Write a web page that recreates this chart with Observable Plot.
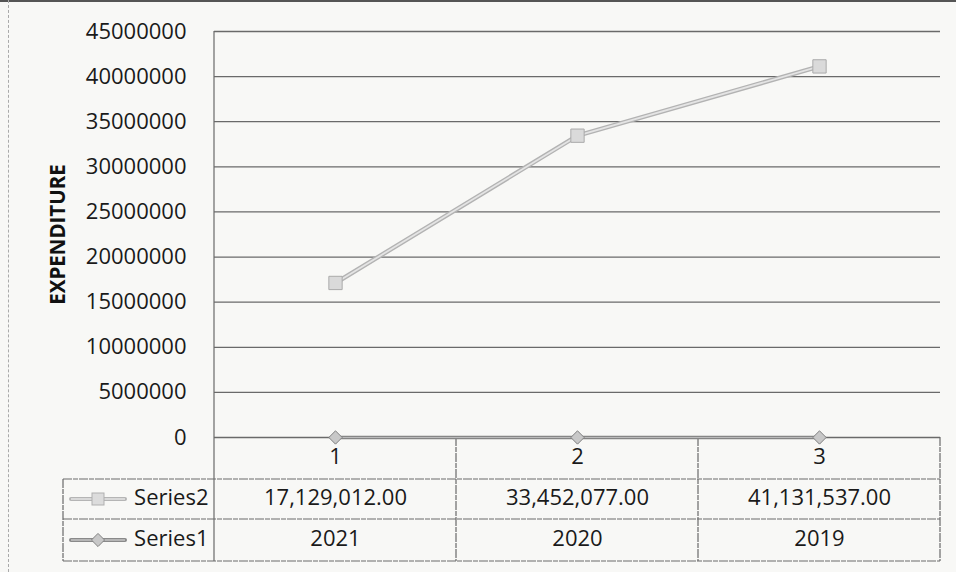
<!DOCTYPE html>
<html>
<head>
<meta charset="utf-8">
<script src="https://cdn.jsdelivr.net/npm/d3@7"></script>
<script src="https://cdn.jsdelivr.net/npm/@observablehq/plot@0.6"></script>
<style>
  html, body { margin: 0; padding: 0; background: #f8f8f6; }
  #chart { position: relative; }
  #chart svg { display: block; }
  #topedge { position: absolute; left: 0; top: 0; width: 956px; height: 2px; background: #555; }
  #leftedge { position: absolute; left: 8px; top: 0; width: 0; height: 572px; border-left: 1px dashed #aaa; }
</style>
</head>
<body>
<div id="chart"><div id="topedge"></div><div id="leftedge"></div></div>
<script>
const categories = [1, 2, 3];
const series2 = [17129012.00, 33452077.00, 41131537.00];
const series1 = [2021, 2020, 2019];
const yTicks = [0, 5000000, 10000000, 15000000, 20000000, 25000000, 30000000, 35000000, 40000000, 45000000];
const seriesNames = ["Series2", "Series1"];

const data2 = categories.map((c, i) => ({cat: c, value: series2[i], label: d3.format(",.2f")(series2[i])}));
const data1 = categories.map((c, i) => ({cat: c, value: series1[i], label: String(series1[i])}));

const FONT = "'Open Sans', 'Noto Sans', sans-serif";
const gridColor = "#6a6a6a";

// table grid + legend keys drawn with the plot's own scales
function tableGrid(index, scales, values, dims) {
  const {x, y} = scales;
  const g = d3.create("svg:g");
  const y0 = y(0);
  const rowH = [42, 82, 124];
  const left = x(0.5) - 151;
  const right = x(3.5);
  const line = (x1, y1, x2, y2, dash) => g.append("line")
    .attr("x1", x1).attr("y1", y1).attr("x2", x2).attr("y2", y2)
    .attr("stroke", gridColor).attr("stroke-width", 1.2).attr("stroke-dasharray", dash ? "9 1 5 1" : null);
  // horizontal table lines
  rowH.forEach(h => line(left, y0 + h, right, y0 + h, true));
  // vertical separators
  line(left, y0 + rowH[0], left, y0 + rowH[2], true);
  [0.5, 1.5, 2.5, 3.5].forEach(b => line(x(b), b === 0.5 ? y(45000000) : y0, x(b), y0 + rowH[2], b !== 0.5));
  // legend keys
  const keys = [
    {row: 0, stroke: "#b5b5b5", inner: "#e6e6e6", sym: "square"},
    {row: 1, stroke: "#8a8a8a", inner: "#c4c4c4", sym: "diamond"}
  ];
  keys.forEach(k => {
    const cy = y0 + (rowH[k.row] + rowH[k.row + 1]) / 2;
    const kx1 = left + 8, kx2 = left + 62, kc = left + 35;
    g.append("line").attr("x1", kx1).attr("x2", kx2).attr("y1", cy).attr("y2", cy)
      .attr("stroke", k.stroke).attr("stroke-width", 4).attr("stroke-linecap", "round");
    g.append("line").attr("x1", kx1).attr("x2", kx2).attr("y1", cy).attr("y2", cy)
      .attr("stroke", k.inner).attr("stroke-width", 1.5);
    if (k.sym === "square") {
      g.append("rect").attr("x", kc - 6).attr("y", cy - 6).attr("width", 12).attr("height", 12)
        .attr("fill", "#dcdcdc").attr("stroke", "#b0b0b0");
    } else {
      g.append("path").attr("d", d3.symbol(d3.symbolDiamond2, 110)()).attr("transform", `translate(${kc},${cy})`)
        .attr("fill", "#c8c8c8").attr("stroke", "#808080");
    }
  });
  return g.node();
}

const FS = 22;
const chart = Plot.plot({
  width: 956,
  height: 572,
  marginTop: 31,
  marginBottom: 135,
  marginLeft: 214,
  marginRight: 16,
  style: {fontFamily: FONT, background: "transparent", color: "#1a1a1a", overflow: "visible"},
  x: {domain: [0.5, 3.5], axis: null},
  y: {domain: [0, 45000000], label: null},
  marks: [
    Plot.gridY(yTicks, {stroke: gridColor, strokeOpacity: 1, strokeWidth: 1.3}),
    Plot.axisY(yTicks, {tickSize: 0, tickPadding: 28, tickFormat: d => String(d), fontSize: FS, label: null}),
    Plot.text(["EXPENDITURE"], {frameAnchor: "left", textAnchor: "middle", dx: -156, rotate: -90, fontSize: 20.5, fontWeight: "bold", fill: "#111"}),
    tableGrid,
    // Series1 line (near zero)
    Plot.line(data1, {x: "cat", y: "value", stroke: "#858585", strokeWidth: 3.5}),
    Plot.line(data1, {x: "cat", y: "value", stroke: "#bdbdbd", strokeWidth: 1}),
    Plot.dot(data1, {x: "cat", y: "value", symbol: "diamond2", r: 6, fill: "#c8c8c8", stroke: "#808080", strokeWidth: 1}),
    // Series2 line
    Plot.line(data2, {x: "cat", y: "value", stroke: "#b3b3b3", strokeWidth: 4.5}),
    Plot.line(data2, {x: "cat", y: "value", stroke: "#e4e4e4", strokeWidth: 1.8}),
    Plot.dot(data2, {x: "cat", y: "value", symbol: "square", r: 7.5, fill: "#dadada", stroke: "#aaaaaa", strokeWidth: 1}),
    // table text
    Plot.text(categories, {x: d => d, frameAnchor: "bottom", dy: 26, text: d => String(d), fontSize: FS, fill: "#1a1a1a"}),
    Plot.text(data2, {x: "cat", frameAnchor: "bottom", dy: 67, text: "label", fontSize: FS, fill: "#1a1a1a"}),
    Plot.text(data1, {x: "cat", frameAnchor: "bottom", dy: 108, text: "label", fontSize: FS, fill: "#1a1a1a"}),
    Plot.text([seriesNames[0]], {frameAnchor: "bottom-left", dx: -6, dy: 67, textAnchor: "end", fontSize: FS, fill: "#1a1a1a"}),
    Plot.text([seriesNames[1]], {frameAnchor: "bottom-left", dx: -6, dy: 108, textAnchor: "end", fontSize: FS, fill: "#1a1a1a"})
  ]
});
document.getElementById("chart").appendChild(chart);
</script>
</body>
</html>
